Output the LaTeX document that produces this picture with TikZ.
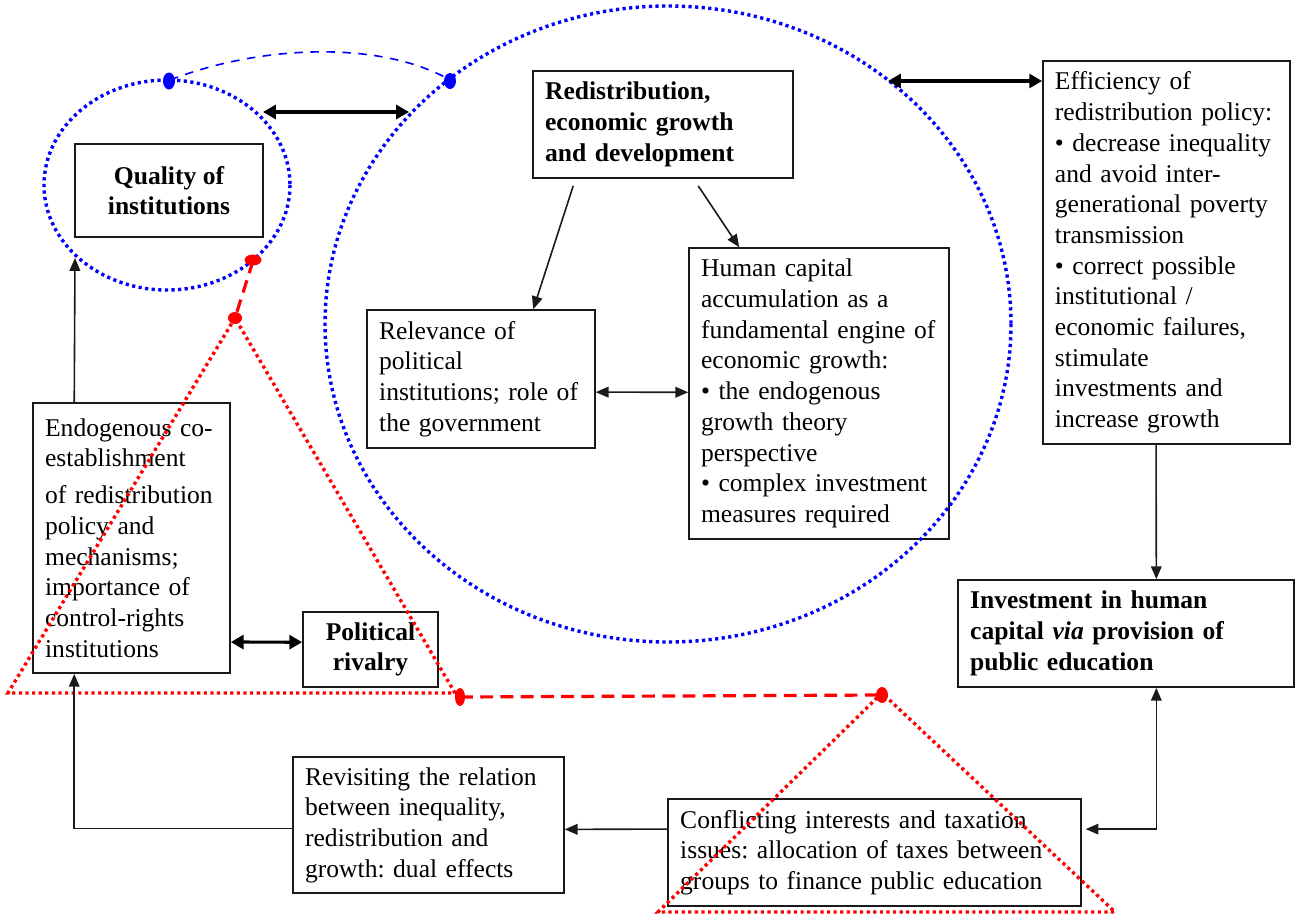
\documentclass[tikz,border=0pt]{standalone}
\usepackage{fontspec}
\setmainfont{Liberation Serif}
\usetikzlibrary{calc, arrows.meta, positioning}
\definecolor{cblue}{HTML}{0000FF}
\definecolor{cred}{HTML}{FF0000}
\definecolor{cbk}{HTML}{1A1A1A}
\hyphenpenalty=10000
\frenchspacing

\begin{document}
\begin{tikzpicture}[x=0.0165cm, y=-0.0165cm,
    box/.style={draw=cbk, line width=0.7pt, inner xsep=0.2cm, inner ysep=0pt, align=left, font=\fontsize{12}{14.4}\selectfont},
    bbox/.style={box, font=\fontsize{12}{14.4}\selectfont\bfseries},
    arr/.style={-{Triangle[length=6pt, width=5pt]}, line width=0.75pt, draw=cbk},
    arrs/.style={{Triangle[length=6pt, width=5pt]}-{Triangle[length=6pt, width=5pt]}, line width=0.75pt, draw=cbk},
    dbl/.style={{Triangle[length=6pt, width=6.5pt]}-{Triangle[length=6pt, width=6.5pt]}, line width=1.5pt},
    bluedots/.style={draw=cblue, line width=1.6pt, dash pattern=on 1.5pt off 1.6pt},
    reddots/.style={draw=cred, line width=1.6pt, dash pattern=on 1.5pt off 1.6pt},
    reddash/.style={draw=cred, line width=1.5pt, dash pattern=on 6pt off 3.5pt},
    bluedash/.style={draw=cblue, line width=0.75pt, dash pattern=on 4pt off 3.5pt}]
    \useasboundingbox (0,0) rectangle (1295,915);

    \node (qual) [bbox, align=center, minimum width=3.10cm, minimum height=1.53cm] at (169,190.5) {Quality of\\institutions};
    \node (redis) [bbox, text width=3.89cm, minimum height=1.77cm] at (663,124.5) {Redistribution,\\economic growth\\and development};
    \node (effic) [box, text width=3.68cm, minimum height=6.32cm] at (1166.5,252.5) {Efficiency of\\redistribution policy:\\\textbullet{} decrease inequality\\and avoid inter-\\generational poverty\\transmission\\\textbullet{} correct possible\\institutional /\\economic failures,\\stimulate\\investments and\\increase growth};
    \node (relev) [box, text width=3.36cm, minimum height=2.28cm] at (481,379) {Relevance of\\political\\institutions; role of\\the government};
    \node (human) [box, text width=3.89cm, minimum height=4.80cm] at (819,393.5) {Human capital\\accumulation as a\\fundamental engine of\\economic growth:\\\textbullet{} the endogenous\\growth theory\\perspective\\\textbullet{} complex investment\\measures required};
    \node (endog) [box, text width=2.85cm, minimum height=4.46cm] at (131.5,538) {Endogenous co-\\establishment\\[3pt]of redistribution\\policy and\\mechanisms;\\importance of\\control-rights\\institutions};
    \node (rival) [bbox, align=center, minimum width=2.23cm, minimum height=1.24cm] at (370.5,649.5) {Political\\rivalry};
    \node (invest) [bbox, text width=5.14cm, minimum height=1.77cm] at (1126,633.5) {Investment in human\\capital \textit{via} provision of\\public education};
    \node (confl) [box, text width=6.41cm, minimum height=1.77cm] at (874.5,852.5) {Conflicting interests and taxation\\issues: allocation of taxes between\\groups to finance public education};
    \node (revis) [box, text width=4.07cm, minimum height=2.24cm] at (428.5,825) {Revisiting the relation\\between inequality,\\redistribution and\\growth: dual effects};

    \draw[bluedots] (167,185) ellipse [x radius=123, y radius=105];
    \draw[bluedots] (668,324) ellipse [x radius=343, y radius=318];
    \draw[bluedash] (170,80) .. controls (260,45) and (380,40) .. (450,80);
    \fill[cblue] (169,81) ellipse [x radius=6, y radius=8.5];
    \fill[cblue] (450,81) ellipse [x radius=6, y radius=8];

    \draw[reddots] (235,318) -- (8,693) -- (455,693) -- cycle;
    \draw[reddots] (882,693) -- (658,912) -- (1115,912) -- cycle;
    \draw[reddash] (253,261) -- (235,318);
    \draw[reddash] (460,697) -- (882,695);
    \fill[cred] (253,260) ellipse [x radius=8.5, y radius=5.5];
    \fill[cred] (235,318) ellipse [x radius=7, y radius=6];
    \fill[cred] (460,697) ellipse [x radius=5, y radius=9];
    \fill[cred] (882,695) ellipse [x radius=6, y radius=8];

    \coordinate (qa) at (263,112);
    \coordinate (ca) at (409,112);
    \coordinate (cb) at (888,81);
    \coordinate (qlow) at (75,258);
    \draw[dbl] (qa) -- (ca);
    \draw[dbl] (cb) -- (effic.west |- cb);
    \draw[arr] ($(redis.south west)+(41,7)$) -- ($(relev.north west)+(167,0)$);
    \draw[arr] ($(redis.south west)+(166,7)$) -- ($(human.north west)+(51,0)$);
    \draw[arrs] ($(relev.north east)+(0,83)$) -- ($(human.north west)+(0,145)$);
    \draw[arr] ($(effic.south west)+(114,0)$) -- ($(invest.north west)+(199,0)$);
    \draw[arrs] ($(invest.south west)+(199,0)$) |- ($(confl.north east)+(4,31)$);
    \draw[arr] ($(confl.north west)+(0,31)$) -- ($(revis.north east)+(0,73)$);
    \draw[arr] ($(revis.north west)+(0,72)$) -| ($(endog.south west)+(42,0)$);
    \draw[arr] ($(endog.north west)+(42,0)$) -- (qlow);
    \draw[dbl] ($(endog.north east)+(0,240)$) -- ($(rival.north west)+(0,31)$);
\end{tikzpicture}
\end{document}
